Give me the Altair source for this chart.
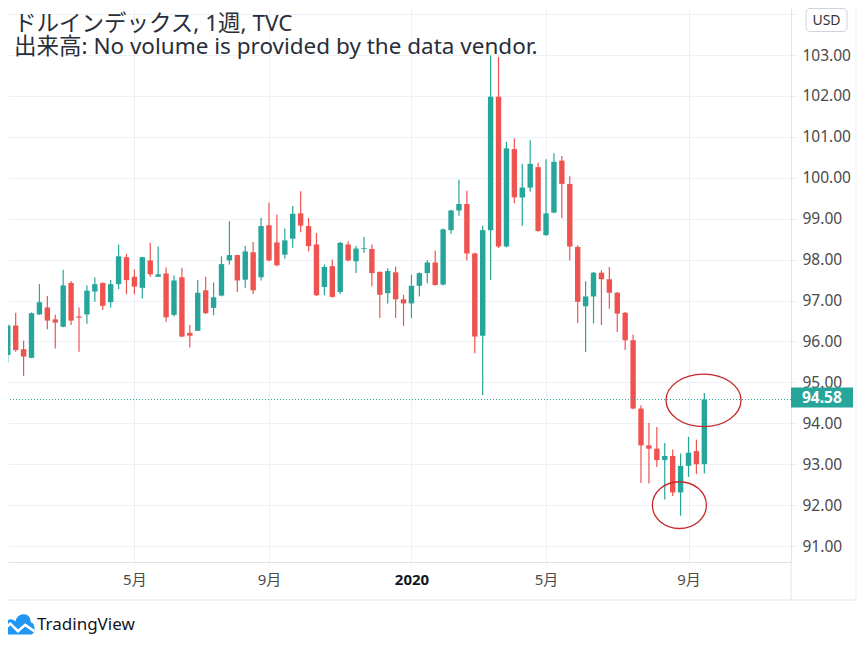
import altair as alt
import pandas as pd

# ---- weekly OHLC of the dollar index (TVC:DXY) ----
opens = [95.67, 96.39, 95.81, 95.60, 96.66, 96.83, 96.54, 96.36, 97.43, 96.61,
         96.66, 97.22, 97.43, 96.96, 97.40, 98.06, 97.58, 97.31, 97.98, 97.58,
         97.66, 96.65, 97.57, 96.21, 96.26, 97.25, 96.82, 97.12, 97.98, 98.11,
         97.51, 98.18, 97.57, 98.84, 98.42, 98.12, 98.51, 99.13, 98.82, 98.37,
         97.33, 97.84, 97.21, 98.37, 97.96, 98.26, 98.26, 97.70, 97.18, 97.69,
         97.03, 96.93, 97.36, 97.67, 97.93, 97.39, 98.72, 99.20, 99.36, 98.15,
         96.14, 98.72, 101.98, 98.32, 100.70, 99.52, 99.76, 100.26, 98.60, 99.15,
         100.42, 99.85, 98.31, 96.86, 97.10, 97.68, 97.52, 97.19, 96.70, 96.03,
         94.36, 93.46, 93.38, 93.10, 93.20, 92.31, 92.96, 93.32, 93.00]
highs = [96.42, 96.70, 96.02, 96.71, 97.40, 97.11, 96.65, 97.75, 97.48, 96.83,
         97.37, 97.56, 97.44, 97.50, 98.37, 98.14, 97.76, 98.07, 98.41, 98.32,
         97.81, 97.61, 97.80, 96.40, 97.50, 97.58, 97.44, 98.08, 98.94, 98.12,
         98.33, 98.43, 99.02, 99.39, 99.10, 98.76, 99.31, 99.67, 99.02, 98.65,
         97.88, 98.00, 98.43, 98.45, 98.33, 98.55, 98.37, 97.71, 97.79, 97.83,
         97.14, 97.63, 97.69, 97.99, 98.22, 98.76, 99.22, 99.95, 99.68, 98.17,
         98.83, 102.99, 102.95, 100.88, 100.96, 100.34, 100.92, 100.37, 100.45, 100.60,
         100.53, 100.04, 98.35, 97.47, 97.70, 97.74, 97.82, 97.21, 96.72, 96.17,
         94.44, 94.01, 93.91, 93.52, 93.36, 93.26, 93.67, 93.60, 94.74]
lows = [95.48, 95.75, 95.16, 95.59, 96.65, 96.30, 95.83, 96.35, 96.40, 95.75,
        96.43, 96.97, 96.77, 96.83, 97.28, 97.15, 97.15, 97.05, 97.58, 97.58,
        96.48, 96.61, 96.10, 95.85, 96.26, 96.67, 96.64, 97.10, 97.88, 97.21,
        97.31, 97.16, 97.49, 97.96, 97.84, 98.02, 98.29, 98.67, 98.20, 97.11,
        97.13, 97.07, 97.16, 97.96, 97.67, 98.16, 97.35, 96.57, 96.93, 96.57,
        96.38, 96.57, 97.10, 97.42, 97.36, 97.37, 98.63, 99.07, 97.98, 95.71,
        94.69, 97.50, 98.28, 98.30, 99.38, 98.83, 99.66, 98.68, 98.58, 99.13,
        99.01, 97.98, 96.45, 95.74, 96.44, 96.40, 96.80, 96.23, 95.79, 94.34,
        92.54, 92.53, 92.93, 92.14, 92.22, 91.74, 92.69, 92.76, 92.77]
closes = [96.39, 95.79, 95.63, 96.69, 96.96, 96.51, 96.46, 97.37, 96.51, 96.58,
          97.24, 97.40, 96.87, 97.40, 98.08, 97.50, 97.34, 98.06, 97.64, 97.64,
          96.59, 97.49, 96.12, 96.14, 97.19, 96.69, 97.08, 97.89, 98.11, 97.49,
          98.20, 97.25, 98.82, 97.98, 97.86, 98.47, 99.12, 98.83, 98.33, 97.13,
          97.82, 97.09, 98.41, 97.98, 98.27, 98.28, 97.67, 97.14, 97.72, 97.03,
          96.93, 97.36, 97.67, 97.93, 97.38, 98.74, 99.20, 99.36, 98.15, 96.12,
          98.72, 101.98, 98.32, 100.72, 99.52, 99.76, 100.34, 98.70, 99.13, 100.39,
          99.85, 98.32, 96.97, 97.10, 97.68, 97.52, 97.19, 96.68, 96.03, 94.36,
          93.46, 93.38, 93.10, 93.20, 92.31, 92.96, 93.28, 93.00, 94.58]
first_week = "2019-01-14"

# time-axis ticks (bar number -> label) and price-axis ticks
tick_bars = [17, 34, 52, 69, 87]
tick_labels = ["5月", "9月", "2020", "5月", "9月"]
year_bar = 52
price_ticks = list(range(91, 105))
last_price = [94.58]
last_label = ["94.58"]

# annotation ellipses (bar position, price)
ell_bar = [88.90, 85.85]
ell_price = [94.56, 92.00]

title_1 = "ドルインデックス, 1週, TVC"
title_2 = "出来高: No volume is provided by the data vendor."
currency = "USD"
brand = "TradingView"

# ---------------------------------------------------------------------
n = len(opens)
df = pd.DataFrame({
    "bar": list(range(1, n + 1)),
    "week": pd.date_range(first_week, periods=n, freq="W-MON").strftime("%Y-%m-%d"),
    "open": opens, "high": highs, "low": lows, "close": closes,
})
df["dir"] = ["up" if c >= o else "down" for o, c in zip(opens, closes)]

W, H = 783, 554
UP, DOWN = "#26a69a", "#ef5350"
GRID = "#edf0f4"
BORDER = "#e0e3eb"
FONT = "Noto Sans, Noto Sans CJK JP"
TXT = "#4a4a4a"

xs = alt.Scale(domain=[1.661, 99.317], nice=False, zero=False)
ys = alt.Scale(domain=[90.610, 104.149], nice=False, zero=False)
color = alt.Color("dir:N", scale=alt.Scale(domain=["up", "down"], range=[UP, DOWN]), legend=None)

lab_arr = "[" + ",".join(f"'{t}'" for t in tick_labels) + "]"
pos_arr = "[" + ",".join(str(b) for b in tick_bars) + "]"
x_axis = alt.Axis(
    values=tick_bars, labelExpr=f"{lab_arr}[indexof({pos_arr}, datum.value)]",
    title=None, grid=True, gridColor=GRID, domainColor=BORDER, tickColor=GRID,
    tickSize=4, labelPadding=6, labelFontSize=15, labelFont=FONT, labelFlush=False,
    labelColor={"condition": {"test": f"datum.value == {year_bar}", "value": "#131722"}, "value": TXT},
    labelFontWeight={"condition": {"test": f"datum.value == {year_bar}", "value": "bold"}, "value": "normal"},
)
y_axis = alt.Axis(
    orient="right", values=price_ticks, title=None,
    labelExpr=f"datum.value > {max(price_ticks) - 0.5} ? '' : format(datum.value, '.2f')",
    grid=True, gridColor=GRID, domainColor=BORDER, tickColor=GRID, tickSize=6,
    labelPadding=5, labelFontSize=15.5, labelFont=FONT, labelColor=TXT, labelFlush=False,
)

base = alt.Chart(df)
wicks = base.mark_rule(strokeWidth=1.2, clip=True).encode(
    x=alt.X("bar:Q", scale=xs, axis=x_axis),
    y=alt.Y("low:Q", scale=ys, axis=y_axis),
    y2="high:Q", color=color,
)
bodies = base.mark_bar(size=5.4, clip=True).encode(
    x=alt.X("bar:Q", scale=xs), y=alt.Y("open:Q", scale=ys), y2="close:Q", color=color,
    tooltip=["week:N", "open:Q", "high:Q", "low:Q", "close:Q"],
)

lp = pd.DataFrame({"p": last_price, "t": last_label})
last_line = alt.Chart(lp).mark_rule(color=UP, strokeDash=[1, 2], strokeWidth=1).encode(
    y=alt.Y("p:Q", scale=ys))
last_box = alt.Chart(lp).mark_rect(color=UP, yOffset=-12, y2Offset=8).encode(
    y=alt.Y("p:Q", scale=ys), y2="p:Q", x=alt.value(W), x2=alt.value(W + 62))
last_txt = alt.Chart(lp).mark_text(align="left", baseline="middle", color="white", dy=-2,
                                   fontWeight="bold", fontSize=15.5, font=FONT).encode(
    y=alt.Y("p:Q", scale=ys), x=alt.value(W + 11), text="t:N")

k = 0.5523
def ellipse(ry):
    return (f"M -1 0 C -1 {-k*ry:.3f} {-k} {-ry:.3f} 0 {-ry:.3f} "
            f"C {k} {-ry:.3f} 1 {-k*ry:.3f} 1 0 C 1 {k*ry:.3f} {k} {ry:.3f} 0 {ry:.3f} "
            f"C {-k} {ry:.3f} -1 {k*ry:.3f} -1 0 Z")

ell_df = pd.DataFrame({"bar": ell_bar, "p": ell_price})
ell1 = alt.Chart(ell_df.iloc[[0]]).mark_point(shape=ellipse(0.70), size=75 ** 2, filled=False,
                                              stroke="#c62828", strokeWidth=1.3, opacity=1).encode(
    x=alt.X("bar:Q", scale=xs), y=alt.Y("p:Q", scale=ys))
ell2 = alt.Chart(ell_df.iloc[[1]]).mark_point(shape=ellipse(0.865), size=54 ** 2, filled=False,
                                              stroke="#c62828", strokeWidth=1.3, opacity=1).encode(
    x=alt.X("bar:Q", scale=xs), y=alt.Y("p:Q", scale=ys))

one = pd.DataFrame({"a": [0]})
titles = alt.Chart(pd.DataFrame({"t": [title_1, title_2], "y": [22.5, 46.3]})).mark_text(
    align="left", baseline="alphabetic", fontSize=22.5, font=FONT, color="#2a2e39").encode(
    x=alt.value(6), y=alt.Y("y:Q", scale=None), text="t:N")

usd_box = alt.Chart(one).mark_rect(fill="white", stroke="#d1d4dc", strokeWidth=1, cornerRadius=4).encode(
    x=alt.value(798), x2=alt.value(839), y=alt.value(0.5), y2=alt.value(23.5))
usd_txt = alt.Chart(pd.DataFrame({"t": [currency]})).mark_text(
    fontSize=14, font=FONT, color="#333333", baseline="middle").encode(
    x=alt.value(818.5), y=alt.value(12.5), text="t:N")

frame_v = alt.Chart(one).mark_rule(color=BORDER).encode(x=alt.value(W), y=alt.value(H), y2=alt.value(592))
frame_b = alt.Chart(one).mark_rule(color=BORDER).encode(x=alt.value(0), x2=alt.value(848), y=alt.value(592))
frame_r = alt.Chart(one).mark_rule(color="#eef0f3").encode(x=alt.value(848), y=alt.value(0), y2=alt.value(592))

cloud = ("M -0.8 0.62 C -1.05 0.62 -1.08 0.15 -0.75 0.1 C -0.8 -0.25 -0.38 -0.42 -0.15 -0.15 "
         "C -0.05 -0.7 0.75 -0.75 0.75 -0.1 C 1.05 -0.05 1.05 0.62 0.75 0.62 Z")
zig = "M -0.95 0.42 L -0.45 -0.02 L 0.0 0.42 L 0.42 0.05 L 0.95 0.42"
logo_cloud = alt.Chart(one).mark_point(shape=cloud, size=34 ** 2, filled=True, fill="#2196f3",
                                       strokeWidth=0, opacity=1).encode(x=alt.value(10), y=alt.value(616))
logo_zig = alt.Chart(one).mark_point(shape=zig, size=34 ** 2, filled=False, stroke="white",
                                     strokeWidth=2.6, opacity=1).encode(x=alt.value(10), y=alt.value(616))
logo_txt = alt.Chart(pd.DataFrame({"t": [brand]})).mark_text(
    align="left", baseline="middle", fontSize=17, font=FONT, color="#131722").encode(
    x=alt.value(29), y=alt.value(617), text="t:N")

chart = alt.layer(
    wicks, bodies, last_line, ell1, ell2, titles, usd_box, usd_txt,
    frame_v, frame_b, frame_r, last_box, last_txt, logo_cloud, logo_zig, logo_txt,
).properties(
    width=W, height=H,
    autosize=alt.AutoSizeParams(type="none"),
    padding={"left": 0, "top": 0, "right": 66, "bottom": 75},
    background="white",
).configure_view(stroke=None)

chart.save("out.html", embed_options={"renderer": "svg", "actions": False})
